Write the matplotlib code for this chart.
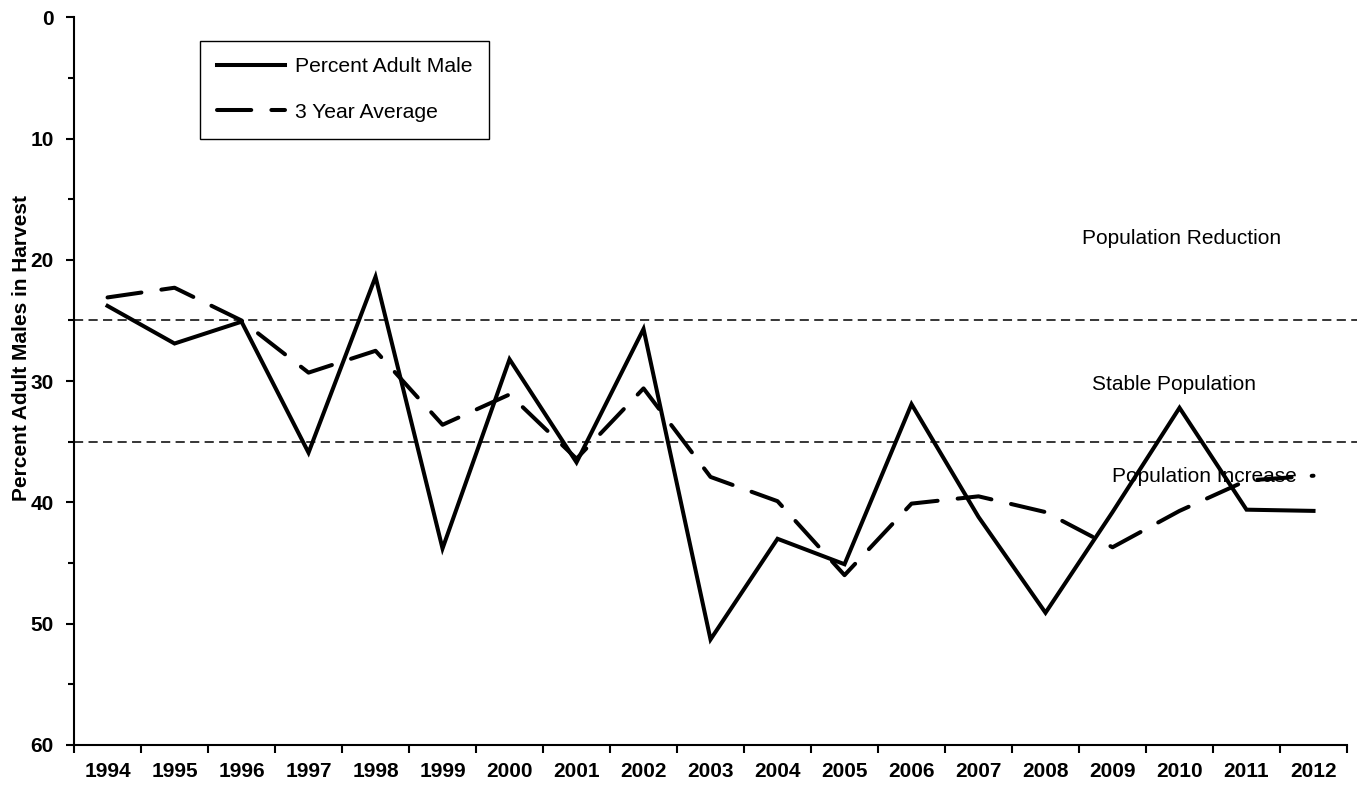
import matplotlib
matplotlib.use("Agg")
import matplotlib.pyplot as plt
from matplotlib.ticker import MultipleLocator, FixedLocator

plt.rcParams['font.family'] = ['Liberation Sans', 'DejaVu Sans']

# data
years = ["1994", "1995", "1996", "1997", "1998", "1999", "2000", "2001", "2002", "2003",
         "2004", "2005", "2006", "2007", "2008", "2009", "2010", "2011", "2012"]
pct_adult_male = [23.8, 26.9, 25.1, 35.9, 21.4, 43.8, 28.2, 36.7, 25.7, 51.3,
                  43.0, 45.1, 31.9, 41.2, 49.1, 40.8, 32.2, 40.6, 40.7]
three_yr_avg = [23.1, 22.3, 25.0, 29.3, 27.5, 33.6, 31.1, 36.4, 30.6, 37.9,
                39.9, 46.0, 40.1, 39.5, 40.8, 43.7, 40.7, 38.2, 37.8]
thresholds = [25, 35]
zone_labels = ["Population Reduction", "Stable Population", "Population Increase"]
zone_label_y = [18.2, 30.25, 37.85]

fig = plt.figure(figsize=(13.66, 7.85), dpi=100)
ax = fig.add_axes([0.0542, 0.051, 0.9319, 0.927])

x = [i + 0.5 for i in range(len(years))]

# threshold lines
for t in thresholds:
    ax.axhline(t, xmin=0, xmax=1.008, color='black', lw=1.1, ls=(0, (6, 3.5)), clip_on=False)

ax.plot(x, pct_adult_male, color='black', lw=2.9, solid_joinstyle='miter',
        label="Percent Adult Male")
ax.plot(x, three_yr_avg, color='black', lw=2.9, dashes=(8.5, 5), dash_capstyle='round',
        label="3 Year Average")

# zone labels
for label, yv, xv in zip(zone_labels, zone_label_y, [15.04, 15.19, 15.49]):
    ax.text(xv, yv, label, fontsize=15, va='center', ha='left')

ax.set_xlim(0, len(years))
ax.set_ylim(60, 0)

ax.yaxis.set_major_locator(MultipleLocator(10))
ax.yaxis.set_minor_locator(MultipleLocator(5))
ax.set_xticks(x)
ax.set_xticklabels(years, fontsize=15, fontweight='bold')
ax.xaxis.set_minor_locator(FixedLocator(range(len(years) + 1)))
ax.tick_params(axis='x', which='major', length=0, pad=12)
ax.tick_params(axis='x', which='minor', length=6, width=1.5, direction='out')
ax.tick_params(axis='y', which='major', length=6, width=1.5, pad=8.5, labelsize=15)
ax.tick_params(axis='y', which='minor', length=4, width=1.5)
for lab in ax.get_yticklabels():
    lab.set_fontweight('bold')

ax.set_ylabel("Percent Adult Males in Harvest", fontsize=15, fontweight='bold')
ax.yaxis.set_label_coords(-0.034, 0.546)

for side in ['top', 'right']:
    ax.spines[side].set_visible(False)
for side in ['left', 'bottom']:
    ax.spines[side].set_linewidth(1.5)

leg = ax.legend(loc='upper left', bbox_to_anchor=(0.099, 0.968), fontsize=15.2,
                handlelength=3.2, handletextpad=0.5, labelspacing=1.25,
                borderpad=0.8, borderaxespad=0, fancybox=False, framealpha=1,
                edgecolor='black')
leg.get_frame().set_linewidth(1.0)

fig.savefig("out.png", dpi=100)
